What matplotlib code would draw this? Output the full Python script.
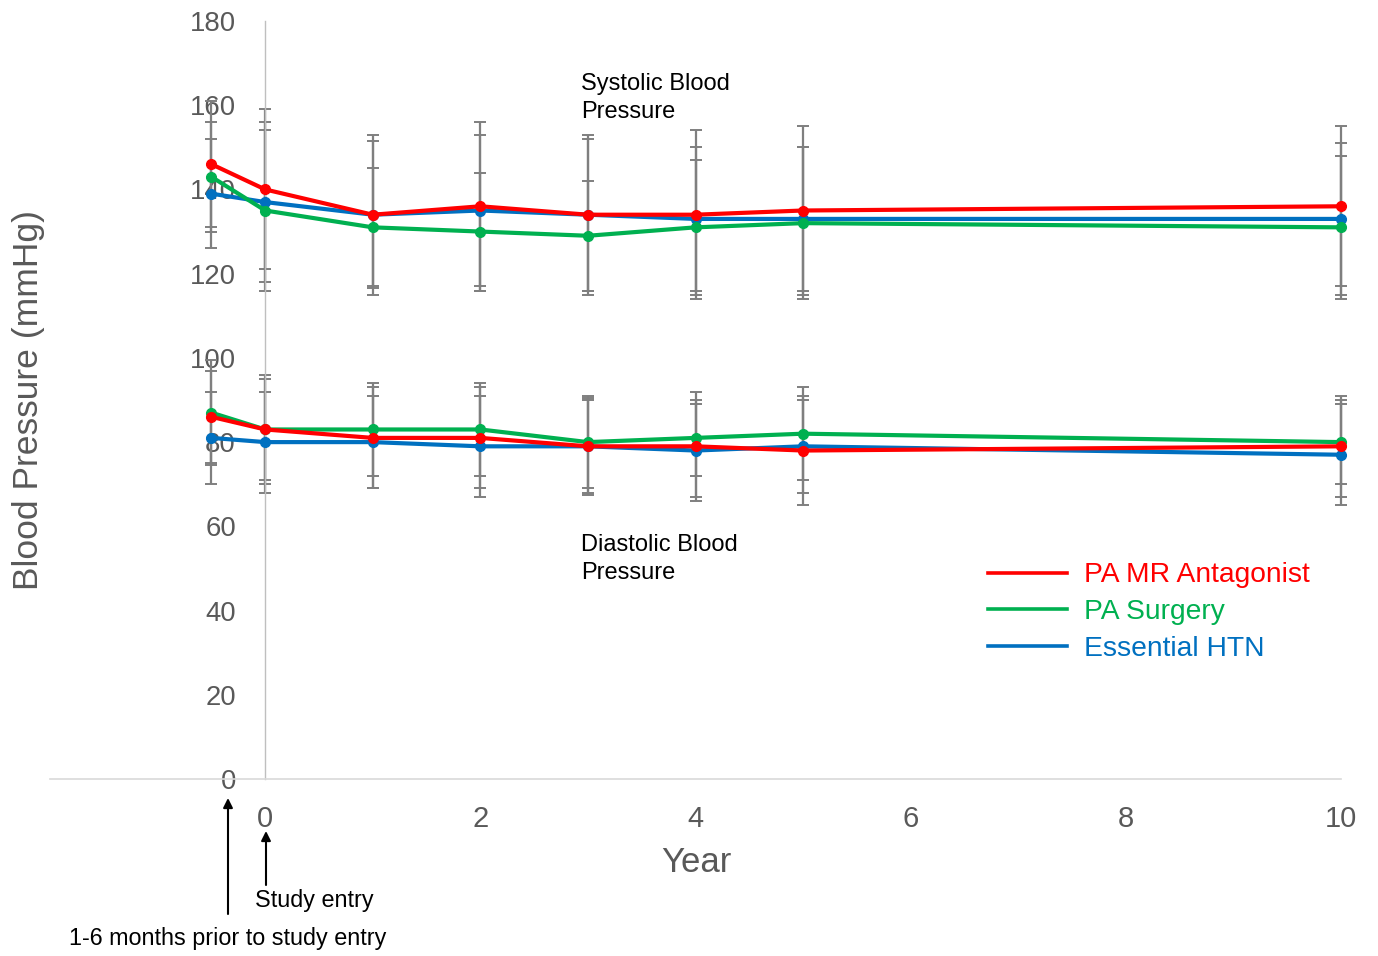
import matplotlib
matplotlib.use("Agg")
import matplotlib.pyplot as plt
from matplotlib.lines import Line2D

plt.rcParams['font.family'] = ['Liberation Sans', 'DejaVu Sans']

# ---- data ----
years = [-0.5, 0, 1, 2, 3, 4, 5, 10]

sys_mra = [146, 140, 134, 136, 134, 134, 135, 136]
sys_surg = [143, 135, 131, 130, 129, 131, 132, 131]
sys_htn = [139, 137, 134, 135, 134, 133, 133, 133]
sys_mra_err = [15, 19, 19, 20, 19, 20, 20, 19]
sys_surg_err = [13, 19, 14, 14, 13, 16, 18, 17]
sys_htn_err = [13, 19, 17.5, 18, 18, 17, 17, 18]

dia_mra = [86, 83, 81, 81, 79, 79, 78, 79]
dia_surg = [87, 83, 83, 83, 80, 81, 82, 80]
dia_htn = [81, 80, 80, 79, 79, 78, 79, 77]
dia_mra_err = [11, 13, 12, 12, 11, 13, 13, 12]
dia_surg_err = [12.5, 12, 11, 11, 11, 9, 11, 10]
dia_htn_err = [11, 12, 11, 12, 11.5, 11, 11, 12]

series_names = ["PA MR Antagonist", "PA Surgery", "Essential HTN"]
colors = ["#FF0000", "#00B050", "#0070C0"]
x_ticks = [0, 2, 4, 6, 8, 10]
y_ticks = [0, 20, 40, 60, 80, 100, 120, 140, 160, 180]

W, H = 1378, 956
fig = plt.figure(figsize=(W / 100, H / 100), dpi=100)
ax = fig.add_axes([50 / W, 1 - 779 / H, (1341 - 50) / W, (779 - 21) / H])

sys_data = [(sys_mra, sys_mra_err), (sys_surg, sys_surg_err), (sys_htn, sys_htn_err)]
dia_data = [(dia_mra, dia_mra_err), (dia_surg, dia_surg_err), (dia_htn, dia_htn_err)]

for (vals, err) in sys_data + dia_data:
    ax.errorbar(years, vals, yerr=err, fmt='none', ecolor='#7f7f7f',
                elinewidth=1.6, capsize=4.3, capthick=1.4, zorder=2, clip_on=False)

# draw order: blue, green, red (red on top)
order = [2, 1, 0]
for i in order:
    for data in (sys_data, dia_data):
        vals = data[i][0]
        ax.plot(years, vals, color=colors[i], lw=3.0, marker='o', ms=7,
                zorder=3 + (2 - i), clip_on=False)

ax.set_xlim(-2, 10)
ax.set_ylim(0, 180)
ax.spines['top'].set_visible(False)
ax.spines['right'].set_visible(False)
ax.spines['left'].set_position(('data', 0))
ax.spines['left'].set_color('#bfbfbf')
ax.spines['left'].set_linewidth(1.0)
ax.spines['bottom'].set_color('#d9d9d9')
ax.spines['bottom'].set_linewidth(1.2)

ax.set_xticks(x_ticks)
ax.set_yticks(y_ticks)
ax.tick_params(axis='y', length=0, pad=21, labelsize=19.8, labelcolor='#595959')
ax.tick_params(axis='x', length=0, pad=18.5, labelsize=21, labelcolor='#595959')

fig.text(696 / W, 1 - 862 / H, "Year", fontsize=25, color='#595959',
         ha='center', va='center')
fig.text(29 / W, 1 - 400 / H, "Blood Pressure (mmHg)", fontsize=25.5,
         color='#595959', ha='center', va='center', rotation=90)

fig.text(581 / W, 1 - 73 / H, "Systolic Blood\nPressure", fontsize=17,
         color='black', ha='left', va='top', linespacing=1.38)
fig.text(581 / W, 1 - 534 / H, "Diastolic Blood\nPressure", fontsize=17,
         color='black', ha='left', va='top', linespacing=1.38)

# arrows
fig_tr = fig.transFigure
ax.annotate("", xy=(228 / W, 1 - 798 / H), xytext=(228 / W, 1 - 914 / H),
            xycoords=fig_tr, textcoords=fig_tr,
            arrowprops=dict(arrowstyle='-|>', color='black', lw=1.5,
                            mutation_scale=14, shrinkA=0, shrinkB=0))
ax.annotate("", xy=(266 / W, 1 - 831 / H), xytext=(266 / W, 1 - 885 / H),
            xycoords=fig_tr, textcoords=fig_tr,
            arrowprops=dict(arrowstyle='-|>', color='black', lw=1.5,
                            mutation_scale=14, shrinkA=0, shrinkB=0))
fig.text(255 / W, 1 - 900 / H, "Study entry", fontsize=16.8, color='black',
         ha='left', va='center')
fig.text(228 / W, 1 - 938 / H, "1-6 months prior to study entry", fontsize=16.8,
         color='black', ha='center', va='center')

handles = [Line2D([], [], color=c, lw=2.6) for c in colors]
leg = fig.legend(handles, series_names, loc='upper left',
                 bbox_to_anchor=(988 / W, 1 - 562.5 / H), bbox_transform=fig_tr,
                 frameon=False, fontsize=20.3, handlelength=2.8,
                 handletextpad=0.6, labelspacing=0.38, borderpad=0,
                 borderaxespad=0, labelcolor='linecolor')

fig.savefig("out.png", dpi=100)
